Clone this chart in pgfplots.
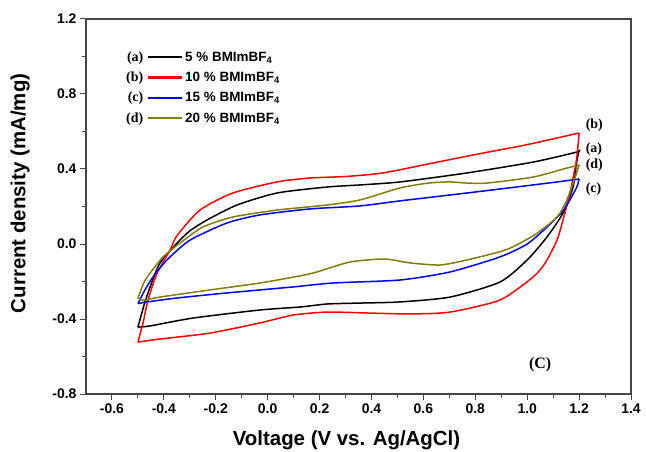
\documentclass[border=0pt]{standalone}
\usepackage{fontspec}
\setmainfont{Liberation Sans}
\newfontfamily\tnr{Liberation Serif}
\usepackage{pgfplots}
\pgfplotsset{compat=1.18}
\definecolor{cvolive}{RGB}{128,125,10}
\definecolor{axgray}{RGB}{70,70,70}

\pgfplotsset{
  lab/.style 2 args={legend image code/.code={%
    \node[anchor=east,inner sep=0pt,text=black,font=\tnr\bfseries\fontsize{14}{14}\selectfont] at (-4bp,0bp) {(#1)};
    \draw[draw=#2, line width=2.3bp] (0bp,0bp) -- (34bp,0bp);}},
}

\begin{document}
\begin{tikzpicture}
\begin{axis}[
  scale only axis, width=545bp, height=375bp,
  xmin=-0.7, xmax=1.4, ymin=-0.8, ymax=1.2,
  xtick={-0.6,-0.4,-0.2,0,0.2,0.4,0.6,0.8,1.0,1.2,1.4},
  ytick={-0.8,-0.4,0,0.4,0.8,1.2},
  minor x tick num=1, minor y tick num=1,
  tick align=outside, tick pos=left,
  major tick length=6bp, minor tick length=4bp,
  axis line style={axgray, line width=1.3bp},
  every tick/.style={axgray, line width=1bp},
  /pgf/number format/assume math mode=true,
  /pgf/number format/.cd, fixed, fixed zerofill, precision=1, /pgfplots/.cd,
  ticklabel style={font=\bfseries\fontsize{14}{14}\selectfont},
  xlabel={\bfseries Voltage (V vs. Ag/AgCl)},
  ylabel={\bfseries Current density (mA/mg)},
  label style={font=\bfseries\fontsize{20.5}{20.5}\selectfont},
  xlabel style={at={(axis description cs:0.478,-0.124)}, anchor=center},
  ylabel style={at={(axis description cs:-0.121,0.535)}, anchor=center, rotate=0},
  legend style={draw=none, fill=none, at={(rel axis cs:0.068,0.924)}, anchor=north west,
    font=\bfseries\fontsize{13.5}{13.5}\selectfont, row sep=5.5bp,
    /tikz/every even column/.append style={column sep=2bp}},
  legend cell align=left,
  every axis plot/.append style={line width=1.5bp, line join=round, smooth, tension=0.4},
]
% (a) 5 %
\addplot[black, lab={a}{black}] coordinates {
 (-0.5,-0.443) (-0.475,-0.32) (-0.453,-0.229) (-0.415,-0.101) (-0.349,0.005)
 (-0.30,0.07) (-0.234,0.128) (-0.118,0.208) (0.036,0.272) (0.229,0.304)
 (0.356,0.315) (0.51,0.331) (0.768,0.379) (1.023,0.437) (1.19,0.49) (1.2,0.501)
};
\addlegendentry{5 \% BMImBF\textsubscript{4}}
\addplot[black, forget plot] coordinates {
 (1.2,0.501) (1.19,0.432) (1.177,0.304) (1.138,0.165) (1.076,0.037) (1.0,-0.085)
 (0.895,-0.203) (0.703,-0.283) (0.51,-0.309) (0.356,-0.315) (0.229,-0.32)
 (0.125,-0.336) (-0.03,-0.352) (-0.288,-0.395) (-0.453,-0.437) (-0.5,-0.443)
};
% (b) 10 %
\addplot[red, lab={b}{red}] coordinates {
 (-0.5,-0.523) (-0.48,-0.42) (-0.461,-0.299) (-0.426,-0.155) (-0.376,-0.032)
 (-0.349,0.045) (-0.261,0.181) (-0.134,0.272) (0.036,0.331) (0.163,0.352)
 (0.30,0.36) (0.445,0.379) (0.637,0.432) (0.83,0.485) (1.0,0.53) (1.2,0.592)
};
\addlegendentry{10 \% BMImBF\textsubscript{4}}
\addplot[red, forget plot] coordinates {
 (1.2,0.592) (1.19,0.45) (1.165,0.272) (1.138,0.128) (1.115,0.021) (1.07,-0.10)
 (1.023,-0.176) (0.895,-0.299) (0.703,-0.363) (0.549,-0.373) (0.383,-0.368)
 (0.229,-0.363) (0.098,-0.379) (-0.03,-0.421) (-0.222,-0.475) (-0.415,-0.507)
 (-0.5,-0.523)
};
% (c) 15 %
\addplot[blue, lab={c}{blue}] coordinates {
 (-0.5,-0.318) (-0.473,-0.245) (-0.442,-0.176) (-0.388,-0.085) (-0.30,0.02)
 (-0.157,0.112) (-0.03,0.155) (0.163,0.187) (0.356,0.203) (0.51,0.23)
 (0.768,0.272) (1.023,0.315) (1.177,0.342) (1.2,0.347)
};
\addlegendentry{15 \% BMImBF\textsubscript{4}}
\addplot[blue, forget plot] coordinates {
 (1.2,0.347) (1.19,0.30) (1.14,0.18) (1.076,0.09) (1.0,0.0) (0.895,-0.069)
 (0.703,-0.149) (0.51,-0.192) (0.252,-0.208) (0.098,-0.229) (-0.157,-0.261)
 (-0.349,-0.288) (-0.465,-0.309) (-0.5,-0.318)
};
% (d) 20 %
\addplot[cvolive, lab={d}{cvolive}] coordinates {
 (-0.5,-0.288) (-0.475,-0.20) (-0.453,-0.155) (-0.403,-0.069) (-0.338,0.005)
 (-0.249,0.091) (-0.134,0.144) (0.036,0.181) (0.229,0.208) (0.356,0.235)
 (0.51,0.299) (0.62,0.325) (0.703,0.331) (0.768,0.325) (0.845,0.325)
 (1.023,0.357) (1.153,0.405) (1.2,0.421)
};
\addlegendentry{20 \% BMImBF\textsubscript{4}}
\addplot[cvolive, forget plot] coordinates {
 (1.2,0.421) (1.185,0.357) (1.153,0.235) (1.115,0.144) (1.03,0.05) (0.92,-0.03)
 (0.768,-0.085) (0.664,-0.112) (0.549,-0.101) (0.45,-0.08) (0.317,-0.096)
 (0.19,-0.149) (0.125,-0.17) (-0.03,-0.208) (-0.222,-0.245) (-0.415,-0.283)
 (-0.48,-0.30) (-0.5,-0.288)
};
\begin{scope}[every node/.style={font=\tnr\bfseries\fontsize{14}{14}\selectfont, anchor=west, inner sep=0pt}]
\node at (axis cs:1.225,0.635) {(b)};
\node at (axis cs:1.225,0.507) {(a)};
\node at (axis cs:1.225,0.421) {(d)};
\node at (axis cs:1.225,0.293) {(c)};
\node[font=\tnr\bfseries\fontsize{16}{16}\selectfont, anchor=center] at (axis cs:1.05,-0.645) {(C)};
\end{scope}
\end{axis}
\pgfresetboundingbox
\path ([shift={(-86bp,-58bp)}]current axis.south west) rectangle ([shift={(15bp,19bp)}]current axis.north east);
\end{tikzpicture}
\end{document}
